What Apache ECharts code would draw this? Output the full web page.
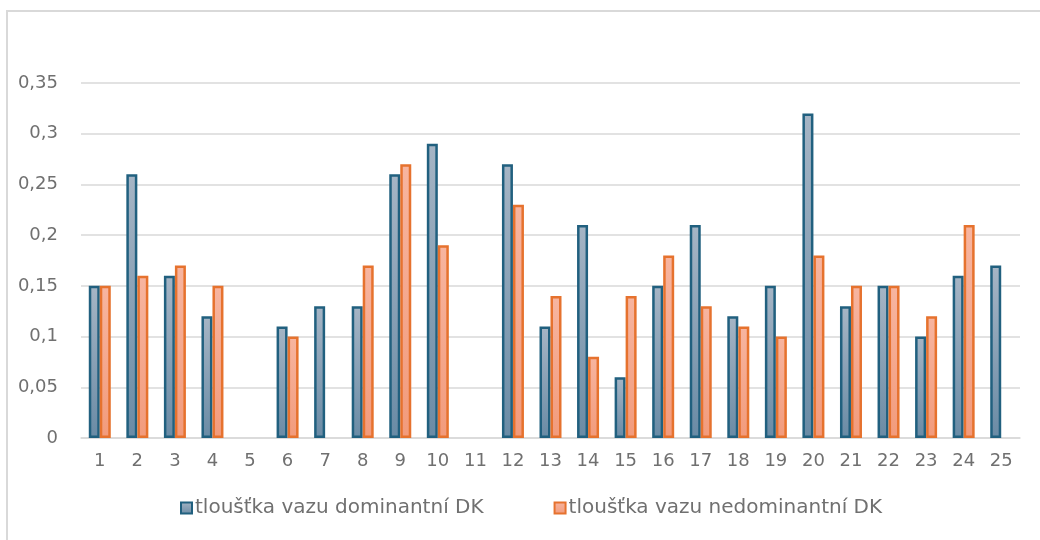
<!DOCTYPE html>
<html>
<head>
<meta charset="utf-8">
<script src="https://cdn.jsdelivr.net/npm/echarts@6/dist/echarts.min.js"></script>
<style>
  body { margin: 0; background: #fff; }
  #ramecek { position: absolute; left: 6px; top: 10px; width: 1100px; height: 600px;
    border-left: 2px solid #d9d9d9; border-top: 2px solid #d9d9d9; }
  #main { position: absolute; left: 0; top: 0; width: 1040px; height: 540px; }
</style>
</head>
<body>
<div id="ramecek"></div>
<div id="main"></div>
<script>
// kategorie (číslo pacienta)
var kategorie = ['1', '2', '3', '4', '5', '6', '7', '8', '9', '10', '11', '12', '13',
  '14', '15', '16', '17', '18', '19', '20', '21', '22', '23', '24', '25']

// tloušťka vazu - dominantní / nedominantní DK
var dominantni = [0.15, 0.26, 0.16, 0.12, null, 0.11, 0.13, 0.13, 0.26, 0.29, null, 0.27, 0.11,
  0.21, 0.06, 0.15, 0.21, 0.12, 0.15, 0.32, 0.13, 0.15, 0.10, 0.16, 0.17]
var nedominantni = [0.15, 0.16, 0.17, 0.15, null, 0.10, null, 0.17, 0.27, 0.19, null, 0.23, 0.14,
  0.08, 0.14, 0.18, 0.13, 0.11, 0.10, 0.18, 0.15, 0.15, 0.12, 0.21, null]

var nazvy = ['tloušťka vazu dominantní DK', 'tloušťka vazu nedominantní DK']

var myChart = echarts.init(document.getElementById('main'))

var pismo = 'DejaVu Sans'
var barvaTextu = '#707070'

var option = {
  animation: false,
  grid: {
    left: 81,
    right: 20,
    top: 83,
    bottom: 102
  },
  legend: {
    data: nazvy,
    left: 180,
    top: 498,
    padding: 0,
    itemWidth: 11,
    itemHeight: 11,
    itemGap: 70,
    icon: 'rect',
    textStyle: { fontFamily: pismo, fontSize: 20, color: barvaTextu, padding: [0, 0, 0, -2] }
  },
  xAxis: {
    type: 'category',
    data: kategorie,
    axisTick: { show: false },
    axisLine: { lineStyle: { color: '#d9d9d9', width: 1.5 } },
    axisLabel: { fontFamily: pismo, fontSize: 18, color: barvaTextu, margin: 14 }
  },
  yAxis: {
    type: 'value',
    min: 0,
    max: 0.35,
    interval: 0.05,
    splitLine: { lineStyle: { color: '#d9d9d9', width: 1.5 } },
    axisLabel: {
      fontFamily: pismo,
      fontSize: 18,
      color: barvaTextu,
      margin: 23,
      // desetinná čárka
      formatter: function (v) {
        return String(Math.round(v * 100) / 100).replace('.', ',')
      }
    }
  },
  series: [{
      name: nazvy[0],
      type: 'bar',
      data: dominantni,
      barWidth: 11,
      barGap: '0%',
      itemStyle: {
        color: new echarts.graphic.LinearGradient(0, 0, 0, 1, [
          { offset: 0, color: '#a6b5c5' },
          { offset: 1, color: '#6a8ba5' }
        ]),
        borderColor: '#21607f',
        borderWidth: 2.5
      }
    },
    {
      name: nazvy[1],
      type: 'bar',
      data: nedominantni,
      barWidth: 11,
      itemStyle: {
        color: new echarts.graphic.LinearGradient(0, 0, 0, 1, [
          { offset: 0, color: '#f7b5a0' },
          { offset: 1, color: '#f29b7c' }
        ]),
        borderColor: '#e6722e',
        borderWidth: 2.5
      }
    }
  ]
}

myChart.setOption(option)
</script>
</body>
</html>
